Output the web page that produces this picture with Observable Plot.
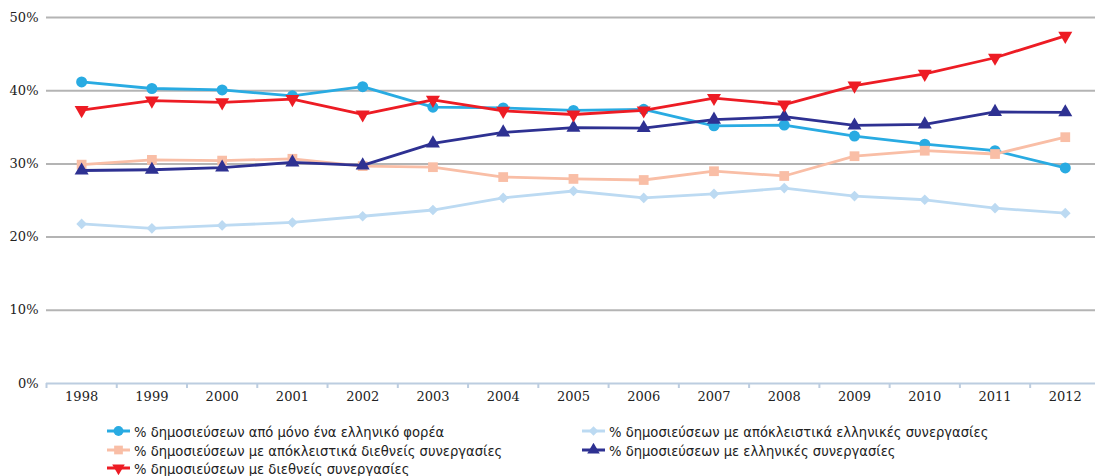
<!DOCTYPE html>
<html>
<head>
<meta charset="utf-8">
<script src="https://cdn.jsdelivr.net/npm/d3@7"></script>
<script src="https://cdn.jsdelivr.net/npm/@observablehq/plot@0.6"></script>
<style>
  html, body { margin: 0; padding: 0; background: #fff; }
  #wrap { position: relative; width: 1095px; height: 476px; overflow: hidden; }
  #chart svg { display: block; }
  .leg { position: absolute; display: flex; align-items: center; font-family: "DejaVu Sans Condensed", "DejaVu Sans", sans-serif; font-size: 14.6px; color: #222; white-space: nowrap; }
  .leg svg { margin-right: 4px; }
</style>
</head>
<body>
<div id="wrap">
  <div id="chart"></div>
  <div id="legend"></div>
</div>
<script>
const years = [1998, 1999, 2000, 2001, 2002, 2003, 2004, 2005, 2006, 2007, 2008, 2009, 2010, 2011, 2012];
const yTicks = [0, 10, 20, 30, 40, 50];

const seriesNames = [
  "% δημοσιεύσεων από μόνο ένα ελληνικό φορέα",
  "% δημοσιεύσεων με απόκλειστικά ελληνικές συνεργασίες",
  "% δημοσιεύσεων με απόκλειστικά διεθνείς συνεργασίες",
  "% δημοσιεύσεων με ελληνικές συνεργασίες",
  "% δημοσιεύσεων με διεθνείς συνεργασίες"
];
const seriesColors = ["#29abe2", "#bcdaf2", "#f9bea6", "#2e3192", "#ed1c24"];
const seriesSymbols = ["circle", "diamond2", "square", "triangle", "triangle"];
const seriesRotate = [0, 0, 0, 0, 180];
const seriesR = [5.5, 4.8, 5.5, 5.2, 5.2];

const singleGreekOrg = [41.2, 40.3, 40.1, 39.3, 40.55, 37.75, 37.65, 37.3, 37.45, 35.2, 35.3, 33.8, 32.7, 31.8, 29.45];
const exclusiveGreekCollab = [21.8, 21.2, 21.6, 22.0, 22.85, 23.7, 25.35, 26.3, 25.35, 25.9, 26.7, 25.6, 25.1, 23.95, 23.27];
const exclusiveIntlCollab = [29.9, 30.55, 30.45, 30.7, 29.7, 29.55, 28.2, 27.95, 27.8, 29.0, 28.35, 31.05, 31.8, 31.35, 33.65];
const greekCollab = [29.1, 29.2, 29.5, 30.2, 29.8, 32.8, 34.3, 34.95, 34.9, 36.05, 36.45, 35.25, 35.4, 37.1, 37.05];
const intlCollab = [37.35, 38.65, 38.4, 38.85, 36.75, 38.75, 37.25, 36.75, 37.3, 39.0, 38.1, 40.7, 42.3, 44.5, 47.5];

const allSeries = [singleGreekOrg, exclusiveGreekCollab, exclusiveIntlCollab, greekCollab, intlCollab];
const rows = [];
allSeries.forEach((vals, si) => vals.forEach((v, i) => rows.push({year: years[i], value: v, s: si})));
const boundaries = years.slice(1).map(y => y - 0.5).concat([years[0] - 0.5]);

const marks = [
  Plot.ruleY(yTicks.filter(t => t > 0), {y: d => d, stroke: "#b4b4b4", strokeWidth: 2}),
  Plot.ruleY([0], {stroke: "#bccde0", strokeWidth: 2}),
  Plot.axisX({ticks: boundaries, tickFormat: () => "", tickSize: 5, stroke: "#bccde0", strokeWidth: 2, label: null}),
  Plot.axisX({ticks: years, tickFormat: d => String(d), tickSize: 0, tickPadding: 8, label: null,
    fontFamily: "DejaVu Serif", fontSize: 13, fill: "#222"}),
  Plot.axisY({ticks: yTicks, tickFormat: d => d + "%", tickSize: 0, tickPadding: 8, label: null,
    fontFamily: "DejaVu Serif", fontSize: 13, fill: "#222"})
];
allSeries.forEach((vals, si) => {
  const data = rows.filter(d => d.s === si);
  marks.push(Plot.line(data, {x: "year", y: "value", stroke: seriesColors[si], strokeWidth: 2.8}));
  marks.push(Plot.dot(data, {x: "year", y: "value", fill: seriesColors[si], stroke: "none",
    symbol: seriesSymbols[si], r: seriesR[si], rotate: seriesRotate[si]}));
});

const chart = Plot.plot({
  width: 1095,
  height: 412,
  marginLeft: 46,
  marginRight: 0,
  marginTop: 17,
  marginBottom: 29,
  x: {type: "linear", domain: [1997.5, 2012.43], axis: null, label: null},
  y: {domain: [0, 50], axis: null, label: null},
  style: {background: "#fff"},
  marks
});
document.getElementById("chart").appendChild(chart);

// Legend
const legendPos = [[107, 431], [582, 431], [107, 450], [582, 450], [107, 468]];
const legend = document.getElementById("legend");
seriesNames.forEach((name, si) => {
  const div = document.createElement("div");
  div.className = "leg";
  div.style.left = legendPos[si][0] + "px";
  div.style.top = (legendPos[si][1] - 9) + "px";
  div.style.height = "18px";
  const sym = d3.symbol(
    {circle: d3.symbolCircle, diamond2: d3.symbolDiamond2, square: d3.symbolSquare, triangle: d3.symbolTriangle}[seriesSymbols[si]],
    Math.PI * seriesR[si] * seriesR[si] * 0.8
  )();
  const svgNS = "http://www.w3.org/2000/svg";
  const s = document.createElementNS(svgNS, "svg");
  s.setAttribute("width", 23); s.setAttribute("height", 14);
  const ln = document.createElementNS(svgNS, "line");
  ln.setAttribute("x1", 0); ln.setAttribute("x2", 23); ln.setAttribute("y1", 7); ln.setAttribute("y2", 7);
  ln.setAttribute("stroke", seriesColors[si]); ln.setAttribute("stroke-width", 3);
  s.appendChild(ln);
  const p = document.createElementNS(svgNS, "path");
  p.setAttribute("d", sym);
  p.setAttribute("fill", seriesColors[si]);
  p.setAttribute("transform", `translate(11.5,7) rotate(${seriesRotate[si]})`);
  s.appendChild(p);
  div.appendChild(s);
  const t = document.createElement("span");
  t.textContent = name;
  div.appendChild(t);
  legend.appendChild(div);
});
</script>
</body>
</html>
